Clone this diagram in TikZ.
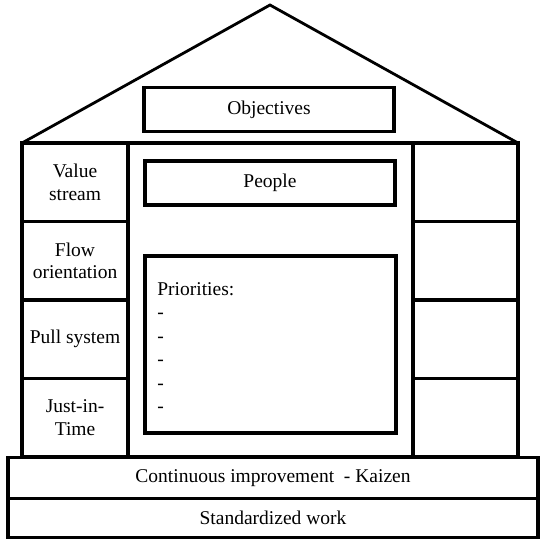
\documentclass[tikz,border=0pt]{standalone}
\usepackage{fontspec}
\setmainfont{Liberation Serif}
\usetikzlibrary{positioning}

\begin{document}
\begin{tikzpicture}[
        x=0.5pt, y=-0.5pt,
        box/.style={rectangle, draw, line width=1.6pt, outer sep=0pt, inner sep=0pt, minimum width=125pt, minimum height=22pt, align=center, font=\fontsize{9.75}{11.3}\selectfont},
        cell/.style={box, minimum width=53pt, minimum height=39.25pt},
        base/.style={box, minimum width=265pt, minimum height=20.5pt},
        roof/.style={line width=1.4pt, line join=miter},
        node distance=0pt
        ]
        \useasboundingbox (0,0) rectangle (541,542);
        % roof
        \coordinate (eavel) at (22,143);
        \coordinate (eaver) at (518,143);
        \coordinate (apex) at (270,5);
        \draw[roof] (eavel) -- (apex) -- (eaver);
        \node[box] (obj) at (269,109.5) {Objectives};
        % middle of the house
        \node[box, minimum width=142.5pt, minimum height=157pt] (core) at (270.5,300) {};
        \node[box] (people) at (270,183) {People};
        \node[box, minimum width=125.5pt, minimum height=88.5pt] (prio) at (270.5,344.5) {};
        \node[anchor=north west, align=left, inner sep=0pt, font=\fontsize{9.75}{11.75}\selectfont] (priotext) at (157,282) {Priorities:\\-\\-\\-\\-\\-};
        % left pillar
        \node[cell] (value) at (75,182.25) {Value\\stream};
        \node[cell, below=of value] (flow) {Flow\\orientation};
        \node[cell, below=of flow] (pull) {Pull system};
        \node[cell, below=of pull] (jit) {Just-in-\\Time};
        % right pillar
        \node[cell, minimum width=52.5pt] (right1) at (465.5,182.25) {};
        \node[cell, minimum width=52.5pt, below=of right1] (right2) {};
        \node[cell, minimum width=52.5pt, below=of right2] (right3) {};
        \node[cell, minimum width=52.5pt, below=of right3] (right4) {};
        % foundation
        \node[base] (kaizen) at (273,478) {Continuous improvement\ \ - Kaizen};
        \node[base, minimum height=19.5pt, below=of kaizen] (std) {Standardized work};
\end{tikzpicture}
\end{document}
